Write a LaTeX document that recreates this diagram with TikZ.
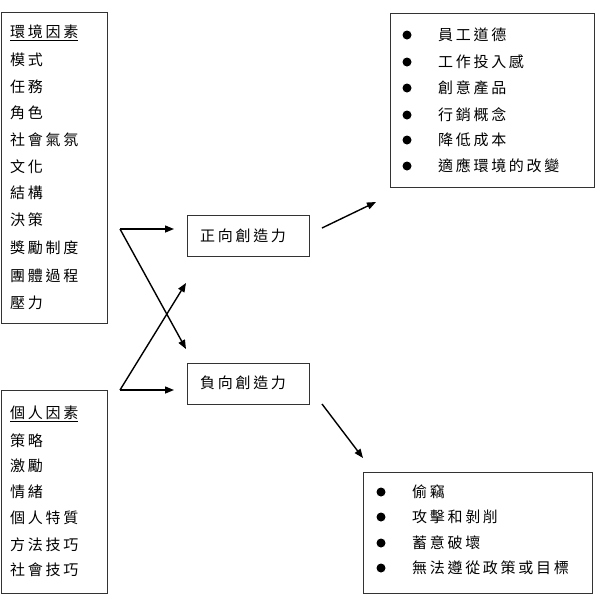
\documentclass[tikz,border=0pt]{standalone}
\usepackage{fontspec}
\newfontfamily\cjk[LetterSpace=18]{Noto Sans CJK TC}
\usetikzlibrary{arrows.meta}
\tikzset{
  frame/.style={draw=black!80, line width=1.2pt, inner sep=0pt, anchor=north west},
  item/.style={anchor=west, inner sep=0pt, font=\cjk\fontsize{15}{15}\selectfont},
  dot/.style={circle, fill=black, inner sep=0pt, minimum size=9pt},
  arr/.style={line width=1.4pt, -{Triangle[length=9pt,width=7pt]}},
  ln/.style={line width=1.4pt}
}
\begin{document}
\begin{tikzpicture}[x=1pt,y=-1pt]
\useasboundingbox (0,0) rectangle (597,614);
% boxes
\node[frame, minimum width=106pt, minimum height=311pt] (env) at (0.8,12) {};
\node[frame, minimum width=106pt, minimum height=203pt] (ind) at (0.8,390) {};
\node[frame, minimum width=122pt, minimum height=41pt] (pos) at (187,215) {};
\node[frame, minimum width=122pt, minimum height=41pt] (neg) at (187,363) {};
\node[frame, minimum width=204pt, minimum height=174pt] (posout) at (390,13) {};
\node[frame, minimum width=229pt, minimum height=121pt] (negout) at (363,472) {};
% environment factors
\node[item] (e0) at (10,33) {\underline{環境因素}};
\node[item] (e1) at (10,60) {模式};
\node[item] (e2) at (10,87) {任務};
\node[item] (e3) at (10,113) {角色};
\node[item] (e4) at (10,140) {社會氣氛};
\node[item] (e5) at (10,167) {文化};
\node[item] (e6) at (10,193) {結構};
\node[item] (e7) at (10,220) {決策};
\node[item] (e8) at (10,248) {獎勵制度};
\node[item] (e9) at (10,276) {團體過程};
\node[item] (e10) at (10,303) {壓力};
% individual factors
\node[item] (i0) at (10,414) {\underline{個人因素}};
\node[item] (i1) at (10,441) {策略};
\node[item] (i2) at (10,466) {激勵};
\node[item] (i3) at (10,492) {情緒};
\node[item] (i4) at (10,518) {個人特質};
\node[item] (i5) at (10,545) {方法技巧};
\node[item] (i6) at (10,570) {社會技巧};
% middle
\node[item] (pt) at (200,236) {正向創造力};
\node[item] (nt) at (200,383) {負向創造力};
% positive outcomes
\node[dot] (pd1) at (407,35) {}; \node[item] (p1) at (438,35) {員工道德};
\node[dot] (pd2) at (407,62) {}; \node[item] (p2) at (438,62) {工作投入感};
\node[dot] (pd3) at (407,88) {}; \node[item] (p3) at (438,88) {創意產品};
\node[dot] (pd4) at (407,115) {}; \node[item] (p4) at (438,115) {行銷概念};
\node[dot] (pd5) at (407,140) {}; \node[item] (p5) at (438,140) {降低成本};
\node[dot] (pd6) at (407,166) {}; \node[item] (p6) at (438,166) {適應環境的改變};
% negative outcomes
\node[dot] (nd1) at (381,492) {}; \node[item] (n1) at (412,492) {偷竊};
\node[dot] (nd2) at (381,517) {}; \node[item] (n2) at (412,517) {攻擊和剝削};
\node[dot] (nd3) at (381,543) {}; \node[item] (n3) at (412,543) {蓄意破壞};
\node[dot] (nd4) at (381,568) {}; \node[item] (n4) at (412,568) {無法遵從政策或目標};
% connector coordinates
\coordinate (s1) at (120,229);
\coordinate (s2) at (120,390);
\coordinate (t1) at (174,229);
\coordinate (t2) at (186,349);
\coordinate (t3) at (174,390);
\coordinate (t4) at (186,283);
\coordinate (r1) at (322,228);
\coordinate (r1e) at (376,202);
\coordinate (r2) at (322,404);
\coordinate (r2e) at (363,458);
\draw[arr] (s1) -- (t1);
\draw[arr] (s1) -- (t2);
\draw[arr] (s2) -- (t3);
\draw[arr] (s2) -- (t4);
\draw[arr] (r1) -- (r1e);
\draw[arr] (r2) -- (r2e);
\end{tikzpicture}
\end{document}
